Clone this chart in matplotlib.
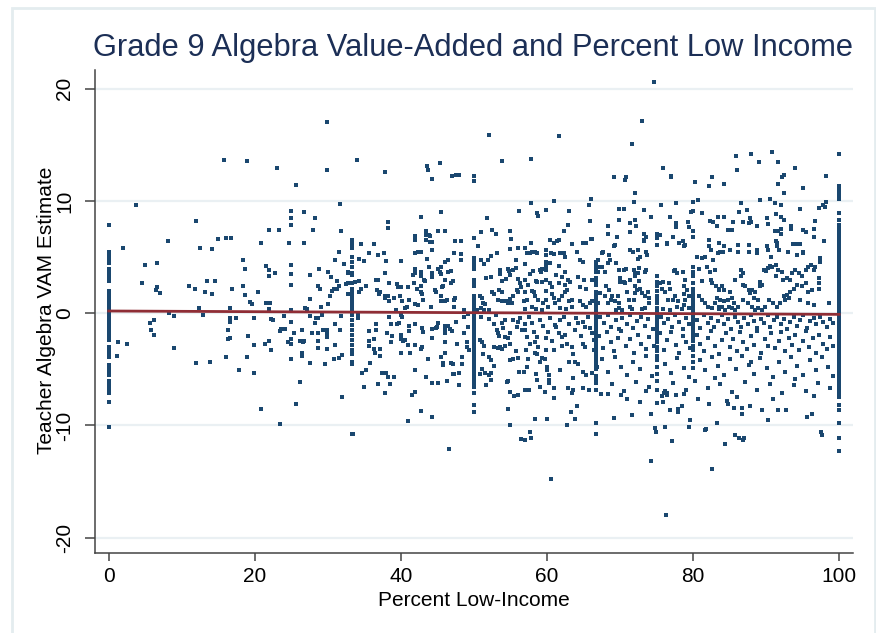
import numpy as np
import matplotlib.pyplot as plt
from matplotlib.patches import Rectangle

plt.rcParams['font.family'] = ['Liberation Sans', 'DejaVu Sans']
plt.rcParams['axes.unicode_minus'] = False

# teachers sitting on exact percentages show up as vertical stripes
y_at_0 = [7.9, 5.5, 5.2, 4.8, 4.5, 3.9, 3.6, 3.2, 2.9, 2.0, 1.75, 1.5, 1.25, 1.0, 0.75, 0.5, 0.25, 0.0,
          -0.25, -0.5, -0.75, -1.0, -1.25, -1.5, -1.8, -2.1, -2.4, -3.0, -3.3, -3.6, -3.9, -4.6, -4.9,
          -5.2, -5.5, -6.0, -6.3, -6.6, -6.9, -7.1, -7.9, -10.1]
y_at_25 = [9.1, 8.5, 7.9, 4.3, 3.5, 2.5, 0.3, -0.75, -2.3, -2.7, -4.1]
y_at_33 = [6.5, 6.2, 5.8, 5.0, 4.6, 4.15, 3.55, 3.4, 2.7, 2.2, 1.8, 1.5, 1.2, 0.9, 0.6, 0.3, -0.16,
           -0.6, -1.05, -1.5, -1.9, -2.4, -2.8, -3.3, -3.6, -4.3, -4.5, -10.76]
y_at_50 = [12.2, 11.8, 6.7, 4.9, 4.6, 4.3, 3.95, 2.95, 2.7, 2.4, 1.5, 1.2, 0.9, 0.6, 0.3, 0.0, -0.25,
           -0.5, -0.75, -1.0, -1.25, -1.5, -1.75, -2.0, -2.25, -2.5, -2.75, -3.0, -3.25, -3.5, -3.75,
           -4.0, -4.25, -4.5, -4.75, -5.0, -5.25, -5.5, -5.75, -6.0, -6.25, -6.6, -7.1, -8.2, -8.8]
y_at_67 = [4.6, 4.3, 4.0, 3.7, 3.1, 2.8, 2.5, 1.9, 1.6, 1.3, 1.0, 0.7, 0.4, 0.1, -0.2, -0.5, -0.8,
           -1.1, -1.4, -1.7, -2.0, -2.3, -2.6, -2.9, -3.2, -3.5, -3.8, -4.1, -4.4, -4.7, -5.0, -5.6,
           -5.9, -6.2, -6.8, -9.75, -10.76]
y_at_75 = [7.1, 6.7, 6.1, 3.3, 2.8, 2.4, 2.0, 1.5, 1.2, 0.9, 0.5, 0.2, -0.1, -0.4, -0.7, -1.0, -1.3,
           -1.6, -1.9, -2.2, -2.6, -3.0, -3.4, -3.8, -4.2, -4.8, -5.4, -6.0, -6.8, -8.0]
y_at_80 = [9.9, 9.1, 7.3, 6.8, 4.15, 3.7, 3.3, 2.7, 2.2, 1.8, 1.5, 1.2, 0.9, 0.6, 0.3, 0.0, -0.3,
           -0.6, -0.9, -1.2, -1.5, -1.8, -2.1, -2.5, -2.9, -3.3, -3.8, -4.3, -4.9]
y_at_100 = [14.2, 11.3, 11.1, 10.8, 10.5, 10.2, 8.9, 8.3, 7.9, 7.6, 7.3, 7.0, 6.8, 6.55, 6.3, 6.05,
            5.8, 5.55, 5.3, 5.05, 4.8, 4.55, 4.3, 4.05, 3.8, 3.55, 3.3, 3.05, 2.8, 2.55, 2.3, 2.05,
            1.8, 1.55, 1.3, 1.05, 0.8, 0.55, 0.3, 0.05, -0.2, -0.45, -0.7, -0.95, -1.2, -1.45, -1.7,
            -1.95, -2.2, -2.45, -2.7, -2.95, -3.2, -3.45, -3.7, -3.95, -4.2, -4.45, -4.7, -4.95,
            -5.2, -5.45, -5.7, -5.95, -6.2, -6.45, -6.7, -6.95, -7.2, -7.45, -8.2, -8.6, -9.8,
            -11.15, -12.25]

# other teachers, (percent low-income, VAM estimate)
pts_low = [(3.7, 9.6), (1.9, 5.8), (4.9, 4.3), (6.6, 4.5), (4.5, 2.7), (6.6, 2.3), (6.5, 2.1),
           (7.0, 1.8), (8.1, 6.4), (12.0, 8.2), (12.5, 5.8), (14.2, 5.7), (14.9, 6.6), (16.0, 6.7),
           (16.8, 6.7), (13.4, 2.9), (14.5, 2.9), (11.0, 2.45), (11.8, 2.15), (13.2, 1.85),
           (14.2, 1.7), (16.9, 2.15), (12.4, 0.45), (16.6, 0.45), (8.3, 0.05), (18.4, 4.7),
           (18.7, 3.9), (18.4, 2.45), (18.7, 1.6), (19.4, 1.0), (19.6, 0.8), (20.4, 1.9),
           (20.8, 6.3), (21.9, 7.4), (23.3, 7.4), (21.6, 4.2), (21.9, 3.85), (21.9, 3.35),
           (22.8, 3.6), (21.6, 0.9), (22.1, 0.9), (22.0, 0.4), (24.7, 6.3), (26.8, 9.0),
           (26.8, 6.3), (28.3, 8.5), (28.0, 7.4), (27.5, 3.4), (28.8, 3.9), (28.6, 2.4),
           (28.9, 2.15), (27.6, 1.25), (26.9, 0.5), (27.2, 0.4), (29.0, 0.55), (30.0, 3.7),
           (30.4, 3.2), (31.3, 2.9), (30.9, 2.2), (30.6, 2.0), (30.3, 1.5), (30.0, 0.8), (31.8, 7.3),
           (31.5, 5.5), (31.0, 4.7), (32.2, 4.4), (32.5, 2.6), (31.5, 2.4), (31.2, 2.2), (32.8, 3.6),
           (32.8, 1.7), (15.8, 13.65), (18.9, 13.55), (23.1, 12.9), (29.9, 12.8), (29.9, 17.0),
           (25.6, 11.4), (31.6, 9.7),
           (1.3, -2.6), (2.55, -2.7), (1.2, -3.8), (5.65, -0.85), (6.25, -0.6), (5.8, -1.5),
           (6.25, -1.9), (9.0, -0.25), (9.0, -3.1), (12.9, -0.15), (11.95, -4.4), (13.8, -4.3),
           (16.6, -0.45), (16.6, -0.8), (17.4, -0.45), (16.3, -1.5), (16.3, -2.3), (16.6, -2.2),
           (16.0, -3.9), (17.8, -5.1), (19.1, -2.0), (18.9, -3.9), (19.85, -0.4), (19.85, -2.8),
           (19.85, -5.3), (20.9, -8.5), (21.4, -2.7), (22.0, -2.5), (22.2, -3.3), (22.2, -0.5),
           (22.5, -0.6), (23.5, -1.6), (23.6, -1.4), (24.2, -1.4), (23.5, -9.85), (24.0, -0.25),
           (24.5, -2.6), (25.4, -1.75), (25.6, -8.1), (26.2, -6.1), (26.2, -2.5), (26.6, -2.6),
           (26.8, -2.5), (26.5, -1.45), (26.5, -3.5), (26.5, -3.8), (27.5, -4.4), (27.6, -0.25),
           (28.2, -0.85), (28.4, -0.45), (28.6, -0.45), (29.2, -0.15), (27.8, -1.75), (28.6, -1.75),
           (29.3, -1.45), (29.9, -1.45), (29.9, -1.75), (28.6, -2.5), (29.9, -2.1), (28.6, -3.1),
           (29.9, -3.2), (29.6, -4.5), (31.0, -0.95), (31.0, -2.8), (31.6, -1.45), (30.8, -4.1),
           (31.5, -4.0), (31.9, -3.7), (31.9, -7.5), (31.8, -0.25)]

pts_mid = [(34.0, 13.65), (37.8, 12.6), (43.6, 13.15), (43.7, 12.8), (44.2, 12.0), (45.4, 13.35),
           (47.0, 12.2), (47.6, 12.3), (47.9, 12.3), (52.1, 15.9), (53.9, 13.55), (57.8, 13.75),
           (61.7, 15.8), (66.0, 10.2), (65.8, 9.6), (65.9, 8.2), (61.0, 10.0), (57.8, 9.85),
           (56.2, 9.1), (58.7, 8.95), (58.8, 8.7), (59.9, 9.2), (63.0, 9.15), (42.8, 8.6), (38.3, 8.1),
           (38.3, 7.6), (45.5, 9.0), (51.8, 8.5), (62.9, 7.9), (62.4, 7.3), (51.0, 7.2), (52.5, 7.4),
           (53.0, 7.05), (54.9, 7.3), (55.1, 6.65), (55.0, 5.7), (50.5, 6.0), (34.5, 6.2),
           (36.3, 6.15), (35.6, 5.35), (36.9, 5.2), (37.7, 5.4), (34.3, 4.8), (34.9, 4.65),
           (38.0, 4.65), (40.0, 4.65), (41.9, 6.9), (42.0, 6.8), (42.0, 6.5), (42.0, 5.35),
           (42.3, 5.5), (42.8, 5.45), (43.4, 7.3), (43.4, 7.0), (43.8, 7.0), (44.0, 6.9), (43.5, 6.5),
           (44.0, 6.35), (44.3, 6.35), (44.2, 5.6), (45.1, 7.3), (46.1, 7.35), (47.4, 6.45),
           (48.2, 6.45), (47.3, 5.35), (48.2, 5.3), (48.2, 4.75), (46.1, 4.6), (46.4, 4.75),
           (43.6, 4.85), (45.05, 3.95), (45.45, 4.15), (41.9, 3.95), (42.0, 3.55), (42.8, 3.65),
           (42.8, 3.35), (43.8, 4.15), (43.2, 3.0), (43.3, 2.9), (44.2, 3.55), (44.2, 3.25),
           (45.3, 3.7), (45.5, 3.5), (46.4, 3.7), (46.9, 3.75), (46.1, 3.0), (46.8, 2.7), (47.1, 2.85),
           (32.7, 3.65), (32.7, 2.65), (37.8, 3.6), (36.6, 2.95), (36.9, 2.95), (38.4, 2.65),
           (34.2, 2.85), (33.7, 2.75), (34.5, 2.2), (35.2, 2.45), (34.2, 1.85), (32.7, 1.7),
           (36.7, 2.05), (37.2, 1.85), (37.0, 1.7), (37.8, 1.55), (38.2, 1.5), (37.8, 1.35),
           (38.4, 1.1), (39.1, 1.4), (39.4, 2.6), (39.6, 2.35), (40.0, 2.35), (39.9, 1.5), (40.1, 1.1),
           (41.0, 2.35), (41.1, 1.2), (41.7, 3.45), (41.8, 2.65), (42.2, 2.2), (42.8, 2.45),
           (42.8, 1.9), (42.9, 1.7), (43.0, 1.2), (42.0, 0.85), (42.3, 0.75), (40.8, 0.6), (40.5, 0.5),
           (39.3, 0.3), (44.7, 2.05), (44.8, 1.9), (45.6, 2.35), (45.8, 2.45), (45.5, 1.5), (45.5, 1.1),
           (44.1, 0.55), (46.1, 1.05), (46.3, 1.2), (47.4, 1.35), (47.3, 1.2), (47.3, 0.55),
           (48.6, 0.3), (50.8, 1.5), (51.1, 1.4), (51.2, 0.9), (51.5, 0.85), (50.9, 0.5), (50.4, 0.3),
           (51.4, 0.25), (52.1, 0.3), (51.6, 3.15), (52.4, 3.25), (51.0, 4.75), (51.4, 4.35),
           (51.9, 4.7), (52.3, 5.1), (53.2, 5.4), (53.6, 3.85), (53.6, 3.5), (53.8, 2.85), (54.4, 3.05),
           (54.6, 3.9), (54.8, 3.75), (54.9, 3.45), (53.5, 2.05), (53.8, 1.85), (52.5, 1.9),
           (52.7, 1.75), (53.3, 1.2), (53.8, 1.1), (54.3, 1.05), (54.6, 1.1), (54.7, 0.9), (55.2, 0.9),
           (55.0, 1.25), (55.4, 1.5), (56.1, 5.85), (57.0, 5.85), (57.8, 6.3), (57.3, 5.35),
           (57.7, 5.35), (57.9, 5.5), (58.3, 5.5), (58.7, 5.35), (55.8, 4.75), (57.0, 4.4),
           (55.4, 3.85), (55.8, 4.0), (57.7, 3.5), (58.1, 3.8), (59.0, 3.85), (59.3, 3.95),
           (59.2, 3.7), (56.1, 3.05), (57.0, 3.0), (56.3, 2.65), (56.5, 2.35), (57.4, 2.5),
           (58.5, 2.85), (58.7, 2.8), (59.3, 2.8), (55.9, 2.05), (56.0, 1.85), (57.0, 1.9),
           (57.2, 1.2), (56.8, 1.1), (57.9, 2.0), (58.2, 1.85), (58.4, 1.5), (58.8, 1.2), (59.4, 0.9),
           (57.0, 0.4), (58.0, 0.6), (58.5, 0.35), (59.3, 0.3), (59.9, 5.65), (59.9, 5.15),
           (59.9, 4.55), (59.9, 4.2), (59.9, 3.85), (59.9, 3.0), (59.9, 2.0), (59.9, 1.2), (60.4, 6.5),
           (61.0, 6.25), (61.4, 6.4), (61.6, 6.5), (60.6, 5.4), (61.0, 5.3), (61.8, 5.35), (62.3, 5.4),
           (62.5, 5.05), (60.4, 4.45), (61.6, 4.25), (61.3, 3.4), (62.0, 3.25), (62.5, 3.65),
           (60.4, 2.65), (60.7, 2.35), (61.6, 2.65), (62.5, 2.5), (62.9, 2.95), (63.2, 2.8),
           (60.7, 1.7), (61.0, 1.35), (61.6, 1.2), (62.0, 1.5), (62.5, 1.85), (62.7, 2.05), (63.0, 1.1),
           (63.4, 1.2), (60.2, 0.6), (61.1, 0.9), (61.8, 0.45), (62.6, 0.35), (63.4, 0.6), (63.4, 6.15),
           (64.1, 5.5), (64.5, 4.75), (65.0, 4.6), (64.9, 6.3), (65.3, 6.3), (64.3, 3.25), (64.5, 2.35),
           (65.1, 2.95), (65.4, 2.2), (66.2, 2.95), (64.5, 1.05), (65.0, 0.75), (65.4, 0.6),
           (65.9, 0.9), (66.2, 1.05), (66.0, 6.65), (66.2, 6.65),
           (33.4, -10.76), (46.65, -12.07), (60.6, -14.77), (41.0, -9.6), (42.8, -8.7), (44.3, -9.2),
           (41.5, -7.3), (41.9, -7.0), (37.8, -7.1), (35.0, -6.6), (36.9, -6.3), (38.5, -6.3),
           (38.3, -5.7), (39.0, -5.7), (37.4, -5.3), (38.0, -5.3), (34.7, -5.3), (35.2, -5.1),
           (35.8, -4.4), (34.1, -0.16), (34.1, -0.46), (35.6, -1.56), (36.6, -0.96), (36.6, -1.5),
           (35.6, -2.5), (35.6, -2.9), (36.3, -2.3), (36.3, -3.2), (36.4, -3.5), (37.1, -3.2),
           (37.1, -3.8), (38.1, -1.8), (38.8, -2.0), (38.6, -2.6), (38.4, -0.3), (38.6, -1.0),
           (39.4, -0.96), (39.8, -0.84), (40.0, -0.13), (40.2, -0.31), (40.0, -1.94), (40.0, -2.3),
           (40.3, -2.5), (40.6, -2.4), (40.0, -3.5), (41.2, -3.5), (41.0, -2.8), (41.1, -1.6),
           (41.1, -1.14), (42.0, -0.96), (42.0, -2.8), (42.9, -1.35), (43.0, -1.7), (42.9, -3.04),
           (42.8, -3.2), (41.9, -5.1), (43.7, -4.1), (43.4, -5.7), (44.3, -6.2), (45.1, -6.2),
           (44.3, -1.44), (44.3, -2.18), (44.8, -1.3), (45.0, -1.2), (45.1, -0.9), (46.05, -1.1),
           (46.05, -1.5), (46.05, -1.8), (46.05, -2.6), (46.5, -1.14), (46.7, -1.44), (47.0, -1.56),
           (47.5, -0.75), (47.7, -2.75), (46.05, -3.5), (45.5, -3.9), (45.7, -4.4), (45.8, -4.6),
           (46.8, -4.4), (47.2, -4.5), (47.1, -5.4), (47.3, -5.4), (47.9, -5.3), (48.3, -3.9),
           (48.4, -4.5), (47.9, -6.4), (46.3, -6.0), (48.6, -1.8), (48.6, -0.37), (49.25, -0.07),
           (49.25, -1.2), (49.1, -2.6), (49.1, -3.0), (49.3, -3.3), (50.85, -2.39), (51.1, -2.6),
           (51.4, -2.9), (51.3, -3.6), (51.1, -5.0), (50.85, -5.4), (51.5, -5.3), (52.1, -5.5),
           (52.4, -5.95), (52.3, -5.35), (51.6, -6.4), (52.0, -3.9), (52.4, -4.2), (52.7, -3.04),
           (53.35, -3.13), (53.6, -3.04), (53.8, -3.2), (54.3, -2.9), (53.35, -1.8), (53.2, -1.5),
           (53.45, -2.0), (53.8, -0.9), (54.2, -0.6), (54.3, -2.15), (54.6, -2.2), (55.0, -2.75),
           (54.95, -4.2), (55.4, -4.1), (54.5, -6.1), (54.6, -6.0), (55.0, -7.0), (55.5, -7.4),
           (56.1, -7.3), (56.2, -5.2), (56.9, -5.2), (57.2, -4.8), (57.4, -4.1), (57.1, -3.3),
           (57.7, -2.7), (57.2, -2.15), (57.0, -1.5), (56.3, -0.46), (56.1, -0.75), (55.4, -0.6),
           (57.0, -0.96), (58.0, -0.9), (58.2, -1.65), (58.7, -2.09), (58.8, -3.0), (58.6, -3.6),
           (58.5, -5.4), (58.6, -5.95), (58.3, -3.5), (59.1, -4.3), (59.3, -4.0), (59.9, -2.24),
           (59.9, -3.3), (59.75, -4.1), (60.0, -4.8), (60.0, -5.06), (60.3, -5.5), (60.3, -5.95),
           (60.3, -6.25), (59.75, -7.0), (61.0, -6.7), (61.0, -7.55), (60.0, -9.4), (58.3, -9.4),
           (54.9, -9.96), (54.6, -8.5), (57.7, -10.6), (57.8, -11.15), (57.0, -11.3), (56.4, -11.2),
           (57.0, -6.84), (57.6, -6.84), (60.7, -2.5), (60.9, -3.3), (61.1, -1.05), (61.3, -1.2),
           (61.6, -1.8), (62.0, -2.09), (62.5, -1.94), (62.7, -2.7), (63.4, -3.0), (63.6, -3.6),
           (63.0, -4.3), (63.85, -4.3), (64.3, -4.5), (64.9, -2.7), (65.2, -3.0), (65.0, -5.2),
           (65.3, -5.5), (66.1, -5.35), (66.8, -4.8), (66.4, -3.3), (66.2, -1.8), (66.4, -2.39),
           (65.9, -1.35), (65.2, -1.2), (64.3, -0.9), (63.85, -1.5), (62.9, -6.7), (63.5, -6.84),
           (63.4, -7.1), (64.1, -8.3), (63.3, -8.8), (63.85, -9.4), (62.7, -9.96), (65.7, -6.84),
           (64.9, -6.7), (51.0, -0.3), (52.0, -0.5), (52.8, -1.0), (53.0, -0.2), (55.9, -1.2),
           (56.6, -1.5), (57.5, -0.3), (59.0, -0.6), (59.5, -1.1), (60.4, -0.4), (61.8, -0.6),
           (62.3, -0.3), (63.0, -1.0), (64.0, -0.4), (65.0, -0.8), (65.6, -0.3), (55.0, -1.8),
           (54.0, -1.3), (58.3, -2.6), (60.2, -1.7), (62.0, -2.9), (64.6, -2.0), (52.8, -4.7),
           (56.0, -4.0), (61.8, -5.1), (63.5, -5.8), (59.0, -6.6), (55.8, -3.4)]

pts_high = [(74.6, 20.6), (73.0, 17.15), (71.6, 15.1), (75.95, 12.95), (76.95, 12.25), (77.0, 12.15),
            (69.2, 12.1), (70.7, 11.85), (70.8, 12.15), (72.1, 10.75), (71.9, 9.95), (80.3, 11.65),
            (82.6, 12.15), (82.2, 11.35), (84.3, 11.5), (85.9, 14.05), (86.0, 12.75), (87.9, 14.2),
            (89.0, 13.45), (90.8, 14.35), (91.6, 13.45), (92.4, 12.35), (92.2, 12.1), (91.6, 11.55),
            (92.5, 10.75), (94.0, 12.95), (95.0, 11.15), (98.2, 12.25), (98.2, 9.9), (97.8, 9.65),
            (97.3, 9.35), (98.1, 9.5), (96.7, 8.25),
            (75.6, 9.64), (77.6, 9.85), (69.8, 9.26), (70.5, 9.26), (73.3, 9.2), (74.3, 8.6),
            (79.7, 9.05), (80.7, 10.1), (81.2, 8.9), (86.5, 9.85), (86.3, 9.05), (87.4, 9.2),
            (89.1, 10.1), (90.5, 10.2), (91.2, 9.85), (92.0, 9.65), (94.7, 9.25), (91.3, 8.85),
            (92.0, 8.6), (92.5, 8.3), (87.8, 8.45), (87.6, 8.0), (88.0, 8.15), (88.7, 7.8), (82.3, 8.25),
            (82.7, 8.15), (83.4, 8.6), (84.2, 8.55), (83.3, 7.75), (84.8, 7.4), (85.3, 7.4),
            (85.5, 8.15), (86.8, 8.15), (90.1, 8.45), (90.3, 7.95), (91.2, 7.35), (91.6, 7.35),
            (92.0, 7.5), (92.1, 7.05), (93.4, 7.75), (93.4, 7.5), (95.1, 7.4), (95.5, 7.2), (96.5, 7.5),
            (96.6, 6.8), (97.9, 6.4), (69.8, 8.3), (71.4, 8.0), (72.1, 8.3), (72.2, 7.75), (68.3, 7.8),
            (68.3, 7.1), (71.4, 7.2), (73.3, 7.05), (73.5, 6.8), (73.3, 6.5), (73.3, 6.4), (75.5, 7.0),
            (77.7, 8.05), (77.7, 7.7), (76.9, 8.6), (77.3, 6.8), (79.3, 8.15), (79.4, 7.7), (78.1, 6.25),
            (78.6, 6.4), (78.7, 5.95), (78.9, 6.1), (76.4, 6.3), (76.5, 6.15), (82.2, 6.55),
            (82.2, 5.95), (82.4, 5.65), (83.6, 6.25), (83.7, 5.5), (84.1, 5.5), (84.2, 5.95),
            (83.4, 5.35), (85.1, 5.65), (86.1, 6.1), (86.1, 5.5), (87.6, 6.1), (87.7, 5.5), (88.8, 5.65),
            (88.8, 5.4), (90.1, 6.0), (90.3, 5.65), (91.4, 6.4), (91.5, 6.25), (91.5, 6.0), (91.7, 5.65),
            (93.0, 5.5), (93.7, 6.15), (94.2, 6.15), (94.7, 6.15), (95.0, 5.5), (95.1, 5.35),
            (94.2, 5.2), (97.4, 4.9), (97.4, 4.6), (69.6, 6.75), (69.3, 6.1), (67.5, 5.35), (67.7, 5.5),
            (68.5, 5.2), (69.2, 5.95), (71.4, 5.6), (71.8, 5.5), (72.5, 5.6), (72.7, 5.0), (72.4, 4.8),
            (73.5, 5.5), (73.7, 5.2), (67.0, 4.75), (67.0, 4.15), (67.0, 3.7), (67.6, 4.15), (67.9, 3.7),
            (68.4, 4.45), (68.6, 4.75), (69.4, 4.5),
            (69.8, 3.85), (70.6, 3.85), (70.0, 3.1), (70.0, 2.8), (70.5, 2.8), (71.4, 2.95),
            (70.85, 3.9), (71.85, 3.85), (72.0, 3.3), (72.1, 3.6), (72.5, 3.6), (72.6, 4.0),
            (73.45, 3.7), (73.6, 3.85), (72.0, 2.4), (72.3, 2.1), (72.1, 1.8), (71.85, 1.2), (68.1, 2.4),
            (68.5, 2.1), (67.95, 1.5), (68.9, 1.5), (68.4, 0.9), (68.8, 1.2), (67.3, 1.8), (67.05, 0.9),
            (69.3, 1.05), (69.7, 1.5), (69.8, 0.9), (69.9, 0.45), (70.25, 0.3), (69.4, 0.3), (70.7, 2.7),
            (70.9, 1.9), (71.2, 1.2), (71.3, 0.6), (71.6, 0.36), (72.6, 2.9), (72.8, 2.2), (73.0, 1.8),
            (73.45, 1.5), (73.8, 1.9), (74.0, 1.35), (74.0, 0.9), (73.45, 0.45), (73.0, 0.36),
            (75.5, 2.7), (75.7, 2.2), (75.95, 2.8), (76.2, 1.85), (76.7, 2.7), (76.9, 2.2), (76.55, 1.2),
            (77.2, 1.2), (77.55, 1.5), (77.8, 0.6), (78.0, 1.05), (75.95, 0.36), (76.9, 0.3),
            (77.35, 3.8), (77.55, 3.85), (77.8, 3.55), (78.6, 3.7), (78.9, 2.95), (78.7, 2.4),
            (79.2, 2.1), (78.8, 1.7), (79.4, 1.5), (78.9, 1.15), (78.7, 0.75), (78.5, 0.36), (79.4, 0.45),
            (80.5, 5.05), (81.2, 4.9), (80.75, 3.9), (81.2, 2.9), (81.7, 5.05), (81.9, 4.15),
            (82.35, 3.7), (82.8, 4.75), (82.95, 3.85), (82.5, 2.95), (82.6, 2.7), (83.1, 2.4),
            (83.5, 2.2), (83.95, 2.4), (83.6, 2.1), (84.2, 2.1), (83.3, 1.4), (83.7, 1.2), (83.05, 0.9),
            (83.6, 0.6), (84.2, 1.05), (84.8, 1.2), (85.1, 1.9), (85.3, 1.35), (85.55, 0.9), (85.8, 2.95),
            (86.5, 3.85), (86.8, 3.55), (86.5, 3.3), (86.9, 2.5), (87.1, 2.4), (87.6, 2.1), (88.1, 2.1),
            (87.8, 1.8), (88.5, 1.9), (88.3, 1.4), (88.95, 1.2), (89.2, 2.8), (89.1, 2.45), (89.4, 2.5),
            (89.7, 3.85), (90.0, 3.8), (90.25, 4.0), (90.6, 4.2), (90.8, 4.15), (90.7, 5.05),
            (91.3, 4.3), (91.6, 3.85), (92.2, 3.7), (91.3, 3.3), (92.3, 2.95), (92.9, 3.1), (93.3, 2.95),
            (93.5, 3.55), (94.0, 3.85), (94.45, 3.55), (94.9, 3.3), (95.4, 3.85), (95.8, 4.15),
            (96.2, 4.3), (96.5, 3.85), (96.7, 4.15), (97.3, 3.1), (97.3, 2.7), (97.3, 2.2), (96.3, 2.1),
            (95.8, 1.9), (95.4, 2.7), (94.9, 2.4), (94.2, 2.5), (93.8, 2.2), (93.3, 1.9), (92.9, 1.6),
            (92.4, 1.5), (92.6, 1.2), (93.1, 1.35), (91.9, 0.9), (91.5, 0.6), (91.0, 0.9), (90.35, 1.2),
            (89.9, 0.6), (89.4, 0.3), (88.95, 0.45), (88.5, 0.3), (88.1, 0.6), (87.5, 0.9), (86.9, 1.2),
            (86.2, 0.6), (85.8, 0.3), (85.3, 0.45), (84.9, 0.6), (84.4, 0.3), (83.95, 0.6), (83.5, 0.36),
            (82.6, 0.45), (82.1, 0.6), (81.7, 0.9), (81.2, 1.2), (80.75, 1.5), (94.7, 1.2), (95.8, 0.9),
            (96.6, 0.75), (98.6, 0.9),
            (76.3, -18.0), (74.2, -13.2), (82.6, -13.85), (77.1, -11.35), (84.4, -11.65),
            (85.7, -10.85), (86.3, -11.15), (86.9, -11.25), (87.0, -11.1), (74.8, -10.2),
            (74.9, -10.55), (76.1, -10.1), (79.4, -10.1), (81.6, -10.4), (81.8, -10.35), (79.6, -9.5),
            (83.3, -9.75), (97.5, -10.6), (97.6, -10.85), (69.2, -9.3), (71.7, -9.05), (74.3, -8.95),
            (77.9, -8.8), (78.55, -8.3), (77.9, -8.5), (76.9, -8.6), (95.6, -9.2), (96.35, -8.95),
            (90.2, -9.5), (92.7, -8.6), (91.6, -8.6), (89.5, -8.6), (86.7, -8.4), (86.7, -9.0),
            (85.6, -8.45), (87.8, -8.3), (84.85, -8.1), (82.25, -8.1), (80.7, -7.6), (70.2, -7.3),
            (70.9, -7.6), (72.7, -7.9), (67.4, -7.2), (68.3, -7.2), (73.6, -6.9), (76.0, -7.1),
            (76.2, -6.9), (76.4, -7.1), (76.5, -7.3), (77.6, -7.3), (78.8, -7.2), (75.7, -7.4),
            (75.95, -7.9),
            (67.2, -0.3), (67.8, -0.9), (68.3, -0.2), (68.8, -1.2), (69.4, -0.6), (69.9, -1.4),
            (70.3, -0.4), (70.9, -1.0), (71.4, -0.2), (71.8, -1.3), (72.3, -0.7), (72.9, -0.3),
            (73.4, -1.1), (73.9, -0.5), (74.5, -1.4), (75.6, -0.3), (76.0, -0.9), (76.6, -0.5),
            (77.1, -1.2), (77.5, -0.2), (78.1, -0.8), (78.6, -1.4), (79.0, -0.4), (79.5, -1.0),
            (80.6, -0.6), (81.0, -1.3), (81.5, -0.2), (82.0, -0.9), (82.4, -0.4), (82.9, -1.2),
            (83.4, -0.7), (83.9, -0.2), (84.3, -1.0), (84.8, -0.5), (85.2, -1.4), (85.7, -0.3),
            (86.1, -0.8), (86.6, -1.2), (87.0, -0.4), (87.5, -1.0), (87.9, -0.2), (88.4, -0.7),
            (88.8, -1.3), (89.3, -0.5), (89.7, -0.9), (90.2, -0.2), (90.6, -1.2), (91.1, -0.6),
            (91.5, -0.3), (92.0, -1.0), (92.4, -0.5), (92.9, -1.4), (93.3, -0.8), (93.8, -0.3),
            (94.2, -1.1), (94.7, -0.6), (95.1, -0.2), (95.6, -1.3), (96.0, -0.7), (96.5, -0.4),
            (96.9, -1.0), (97.4, -0.3), (97.8, -0.8), (98.3, -1.2), (98.7, -0.5), (99.1, -0.9),
            (67.1, -2.0), (67.7, -3.1), (68.2, -1.7), (68.7, -2.6), (69.2, -3.4), (69.7, -2.2),
            (70.2, -1.6), (70.8, -2.9), (71.3, -2.3), (71.9, -3.5), (72.4, -1.9), (72.9, -2.7),
            (73.5, -3.2), (74.0, -2.1), (74.6, -2.9), (75.5, -1.8), (76.0, -3.3), (76.5, -2.4),
            (77.0, -1.7), (77.6, -2.8), (78.1, -3.5), (78.6, -2.0), (79.1, -2.6), (79.6, -3.1),
            (80.5, -1.9), (81.0, -2.7), (81.5, -3.4), (82.0, -2.2), (82.5, -1.6), (83.0, -2.9),
            (83.5, -3.6), (84.0, -2.4), (84.5, -1.8), (85.0, -3.0), (85.5, -2.3), (86.0, -3.4),
            (86.4, -1.7), (86.9, -2.6), (87.4, -3.2), (87.9, -2.0), (88.3, -2.8), (88.8, -1.6),
            (89.3, -3.5), (89.8, -2.3), (90.2, -2.9), (90.7, -1.8), (91.2, -3.1), (91.7, -2.5),
            (92.1, -1.7), (92.6, -3.4), (93.1, -2.2), (93.6, -2.8), (94.0, -1.9), (94.5, -3.3),
            (95.0, -2.5), (95.4, -1.6), (95.9, -3.0), (96.4, -2.2), (96.9, -3.5), (97.3, -1.9),
            (97.8, -2.7), (98.3, -3.2), (98.8, -2.1), (99.2, -2.9),
            (67.5, -4.1), (68.4, -5.2), (69.3, -3.9), (70.1, -4.8), (71.0, -5.5), (71.8, -4.3),
            (72.7, -5.0), (73.6, -3.8), (74.4, -5.6), (76.2, -4.5), (77.0, -5.3), (77.8, -4.0),
            (78.7, -4.9), (79.5, -5.7), (80.9, -4.2), (81.7, -5.1), (82.6, -3.9), (83.4, -4.7),
            (84.2, -5.5), (85.1, -4.1), (85.9, -5.0), (86.7, -3.8), (87.6, -4.6), (88.4, -5.4),
            (89.2, -4.0), (90.1, -4.9), (90.9, -5.7), (91.8, -4.3), (92.6, -5.2), (93.4, -3.9),
            (94.3, -4.7), (95.1, -5.5), (96.0, -4.2), (96.8, -5.1), (97.7, -3.9), (98.5, -4.8),
            (99.2, -5.6), (88.0, -4.3), (83.0, -5.8), (93.9, -5.9),
            (68.9, -6.3), (70.6, -6.9), (72.2, -6.1), (74.0, -6.6), (77.3, -6.2), (79.0, -6.8),
            (80.3, -6.0), (82.0, -6.7), (83.7, -6.3), (85.4, -7.0), (87.1, -6.1), (88.7, -6.8),
            (90.5, -6.3), (92.2, -7.1), (93.8, -6.4), (95.4, -6.9), (97.1, -6.2), (98.8, -6.7),
            (86.0, -7.5), (91.0, -7.6), (96.5, -7.4), (84.6, -7.8)]

# fitted line
fit_x = [0, 100]
fit_y = [0.2, -0.1]

stripes = [(0, y_at_0), (25, y_at_25), (33.3, y_at_33), (50, y_at_50), (66.7, y_at_67),
           (75, y_at_75), (80, y_at_80), (100, y_at_100)]
xs = []
ys = []
for sx, vals in stripes:
    xs += [sx] * len(vals)
    ys += vals
for group in (pts_low, pts_mid, pts_high):
    xs += [p[0] for p in group]
    ys += [p[1] for p in group]

navy = '#1a476f'
fig = plt.figure(figsize=(8.76, 6.33), dpi=100)
fig.patches.append(Rectangle((12 / 876, -0.01), 863 / 876, 1 - 8 / 633 + 0.01,
                             transform=fig.transFigure, fill=False, edgecolor='#e4ecef', lw=2))
ax = fig.add_axes([95 / 876, 1 - 553 / 633, 758 / 876, 483 / 633])

for g in [-20, -10, 0, 10, 20]:
    ax.axhline(g, color='#eaf0f3', lw=1.6, zorder=0)

ax.scatter(xs, ys, s=5.5, marker='s', color=navy, linewidths=0, zorder=2)
ax.plot(fit_x, fit_y, color='#8f2d35', lw=2, zorder=3)

ax.set_xlim(-1.88, 101.9)
ax.set_ylim(-21.36, 21.67)
ax.set_xticks([0, 20, 40, 60, 80, 100])
ax.set_yticks([-20, -10, 0, 10, 20])
for side in ['top', 'right']:
    ax.spines[side].set_visible(False)
for side in ['left', 'bottom']:
    ax.spines[side].set_color('#444444')
    ax.spines[side].set_linewidth(1.1)
ax.tick_params(axis='both', colors='#444444', labelcolor='black', labelsize=15, width=1.1)
ax.tick_params(axis='x', length=6, pad=4)
ax.tick_params(axis='y', length=7, pad=8, labelrotation=90)
for lab in ax.get_yticklabels():
    lab.set_va('center')

fig.text(473 / 876, 1 - 48 / 633, 'Grade 9 Algebra Value-Added and Percent Low Income',
         ha='center', va='center', fontsize=22.2, color='#1c2f56')
fig.text(474 / 876, 1 - 600 / 633, 'Percent Low-Income', ha='center', va='center', fontsize=15)
fig.text(47 / 876, 1 - 310 / 633, 'Teacher Algebra VAM Estimate', ha='center', va='center',
         rotation=90, fontsize=15)

fig.savefig('out.png', dpi=100)
